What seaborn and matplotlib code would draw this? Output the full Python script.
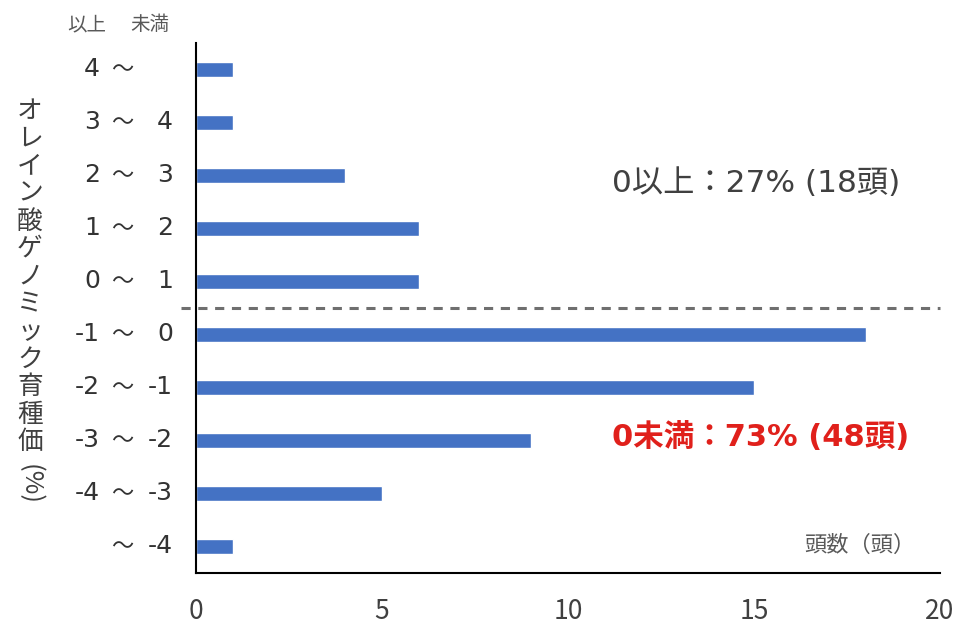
import numpy as np
import pandas as pd
import matplotlib
matplotlib.use('Agg')
import matplotlib.pyplot as plt
import matplotlib.transforms as mtransforms
import seaborn as sns

# data
lower = ['4', '3', '2', '1', '0', '-1', '-2', '-3', '-4', '']
upper = ['', '4', '3', '2', '1', '0', '-1', '-2', '-3', '-4']
counts = [1, 1, 4, 6, 6, 18, 15, 9, 5, 1]
categories = [f'{a}～{b}' for a, b in zip(lower, upper)]
ylabel_text = 'オレイン酸ゲノミック育種価'
note_above = '0以上：27% (18頭)'
note_below = '0未満：73% (48頭)'

df = pd.DataFrame({'range': categories, 'count': counts})

sns.set_style('white')
plt.rcParams['font.family'] = ['Noto Sans CJK JP', 'DejaVu Sans']
latin = ['DejaVu Sans', 'Noto Sans CJK JP']

fig = plt.figure(figsize=(9.65, 6.37), dpi=100)
ax = fig.add_axes([0.203, 0.1005, 0.771, 0.832])

sns.barplot(data=df, y='range', x='count', orient='h', color='#4472C4',
            width=0.3, saturation=1, ax=ax)

ax.set_xlim(0, 20)
ax.set_ylim(len(counts) - 0.5, -0.5)
ax.set_xticks([0, 5, 10, 15, 20])
ax.set_yticks(np.arange(-0.5, len(counts), 1))
ax.set_yticklabels([])
ax.tick_params(axis='x', direction='in', length=10, width=1.5, pad=18,
               labelsize=19, colors='black')
ax.tick_params(axis='x', labelcolor='#404040')
ax.tick_params(axis='y', direction='in', length=5, width=1.5)
ax.set_xlabel('')
ax.set_ylabel('')
for s in ['top', 'right']:
    ax.spines[s].set_visible(False)
for s in ['left', 'bottom']:
    ax.spines[s].set_linewidth(1.5)
    ax.spines[s].set_color('black')

# dashed separator between 0~1 and -1~0
trans_line = mtransforms.blended_transform_factory(ax.transAxes, ax.transData)
ax.plot([-0.02, 1.0], [4.5, 4.5], transform=trans_line, ls=(0, (3, 2.5)),
        color='#6f6f6f', lw=2.2, clip_on=False)

# category labels in three columns
trans = mtransforms.blended_transform_factory(fig.transFigure, ax.transData)
for i, (a, b) in enumerate(zip(lower, upper)):
    fig.text(100 / 965, i, a, transform=trans, ha='right', va='center',
             fontsize=18, color='#333333', family=latin)
    fig.text(122 / 965, i, '～', transform=trans, ha='center', va='center',
             fontsize=16, color='#333333')
    fig.text(173 / 965, i, b, transform=trans, ha='right', va='center',
             fontsize=18, color='#333333', family=latin)

fig.text(87 / 965, 1 - 25 / 637, '以上', ha='center', va='center',
         fontsize=14, color='#595959')
fig.text(150 / 965, 1 - 25 / 637, '未満', ha='center', va='center',
         fontsize=14, color='#595959')

# vertical y label
fig.text(30 / 965, 1 - 98 / 637, '\n'.join(ylabel_text), ha='center', va='top',
         fontsize=18.5, color='#404040', linespacing=1.08)
fig.text(30 / 965, 1 - 484 / 637, '(%)', ha='center', va='center',
         fontsize=18.5, color='#404040', rotation=270)

fig.text(612 / 965, 1 - 183 / 637, note_above, ha='left', va='center',
         fontsize=22.5, color='#404040', family=latin)
fig.text(612 / 965, 1 - 437 / 637, note_below, ha='left', va='center',
         fontsize=22, color='#E0201B', fontweight='bold', family=latin)
fig.text(915 / 965, 1 - 545 / 637, '頭数（頭）', ha='right', va='center',
         fontsize=16, color='#595959')

fig.savefig('out.png', dpi=100)
